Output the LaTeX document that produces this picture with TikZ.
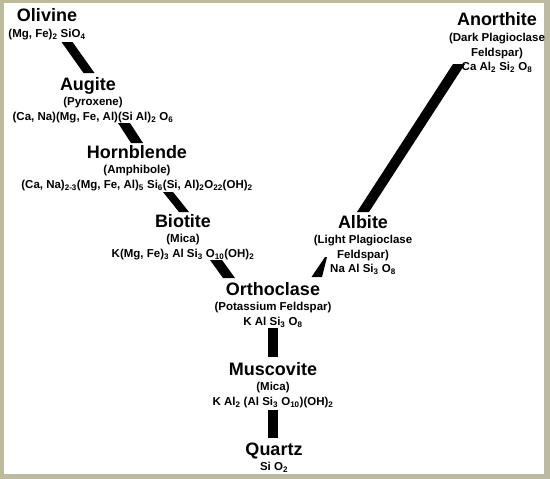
\documentclass[tikz,border=0pt]{standalone}
\usepackage{fontspec}
\setmainfont{Liberation Sans}
\usetikzlibrary{positioning}
\definecolor{framegray}{RGB}{189,187,158}
\newcommand{\subs}[1]{\textsubscript{#1}}
% filled bar with flat top and bottom
\newcommand{\slab}[3]{\fill ([xshift=-#3]#1) -- ([xshift=#3]#1) -- ([xshift=#3]#2) -- ([xshift=-#3]#2) -- cycle;}
\tikzset{
    mineral/.style={inner sep=0pt, anchor=base, font=\fontsize{18}{18}\selectfont\bfseries, text height=13pt, text depth=4pt},
    formula/.style={inner sep=0pt, align=center, font=\fontsize{11.5}{14.5}\selectfont\bfseries},
}
\begin{document}
\begin{tikzpicture}[x=1pt,y=-1pt]
        \fill[framegray] (0,0) rectangle (550,479);
        \fill[white] (4,3) rectangle (544,474);

        % left branch
        \node[mineral] (olv) at (47,22) {Olivine};
        \node[formula, below=3pt of olv] (olv-f) {(Mg, Fe)\subs{2} SiO\subs{4}};
        \node[mineral] (aug) at (88,90) {Augite};
        \node[formula, below=3pt of aug, xshift=5pt] (aug-f) {(Pyroxene)\\(Ca, Na)(Mg, Fe, Al)(Si Al)\subs{2} O\subs{6}};
        \node[mineral] (hbl) at (137,158) {Hornblende};
        \node[formula, below=3pt of hbl] (hbl-f) {(Amphibole)\\(Ca, Na)\subs{2-3}(Mg, Fe, Al)\subs{5} Si\subs{6}(Si, Al)\subs{2}O\subs{22}(OH)\subs{2}};
        \node[mineral] (bio) at (183,227) {Biotite};
        \node[formula, below=3pt of bio] (bio-f) {(Mica)\\K(Mg, Fe)\subs{3} Al Si\subs{3} O\subs{10}(OH)\subs{2}};

        % right branch
        \node[mineral] (ano) at (497,26) {Anorthite};
        \node[formula, below=3pt of ano] (ano-f) {(Dark Plagioclase\\Feldspar)\\Ca Al\subs{2} Si\subs{2} O\subs{8}};
        \node[mineral] (alb) at (363,228) {Albite};
        \node[formula, below=3pt of alb] (alb-f) {(Light Plagioclase\\Feldspar)\\Na Al Si\subs{3} O\subs{8}};

        % trunk
        \node[mineral] (ort) at (273,295) {Orthoclase};
        \node[formula, below=3pt of ort] (ort-f) {(Potassium Feldspar)\\K Al Si\subs{3} O\subs{8}};
        \node[mineral] (mus) at (273,375) {Muscovite};
        \node[formula, below=3pt of mus] (mus-f) {(Mica)\\K Al\subs{2} (Al Si\subs{3} O\subs{10})(OH)\subs{2}};
        \node[mineral] (qtz) at (274,455) {Quartz};
        \node[formula, below=3pt of qtz] (qtz-f) {Si O\subs{2}};

        % bar ends
        \coordinate (olv-aug-t) at (67,42);   \coordinate (olv-aug-b) at (89,73);
        \coordinate (aug-hbl-t) at (124,123); \coordinate (aug-hbl-b) at (137,143);
        \coordinate (hbl-bio-t) at (168,192); \coordinate (hbl-bio-b) at (184,212);
        \coordinate (bio-ort-t) at (216,260); \coordinate (bio-ort-b) at (229,278);
        \coordinate (ano-alb-t) at (459,64);  \coordinate (ano-alb-b) at (363,212);
        \coordinate (ort-mus-t) at (273,328); \coordinate (ort-mus-b) at (273,357);
        \coordinate (mus-qtz-t) at (273,410); \coordinate (mus-qtz-b) at (273,438);

        \slab{olv-aug-t}{olv-aug-b}{5.5}
        \slab{aug-hbl-t}{aug-hbl-b}{6}
        \slab{hbl-bio-t}{hbl-bio-b}{5}
        \slab{bio-ort-t}{bio-ort-b}{6}
        \slab{ano-alb-t}{ano-alb-b}{6}
        \slab{ort-mus-t}{ort-mus-b}{5}
        \slab{mus-qtz-t}{mus-qtz-b}{5}
        % albite to orthoclase wedge
        \coordinate (alb-ort-t) at (326,257);
        \coordinate (alb-ort-b) at (317,277);
        \fill ([xshift=-1]alb-ort-t) -- ([xshift=1]alb-ort-t) -- ([xshift=5]alb-ort-b) -- ([xshift=-5.5]alb-ort-b) -- cycle;
\end{tikzpicture}
\end{document}
